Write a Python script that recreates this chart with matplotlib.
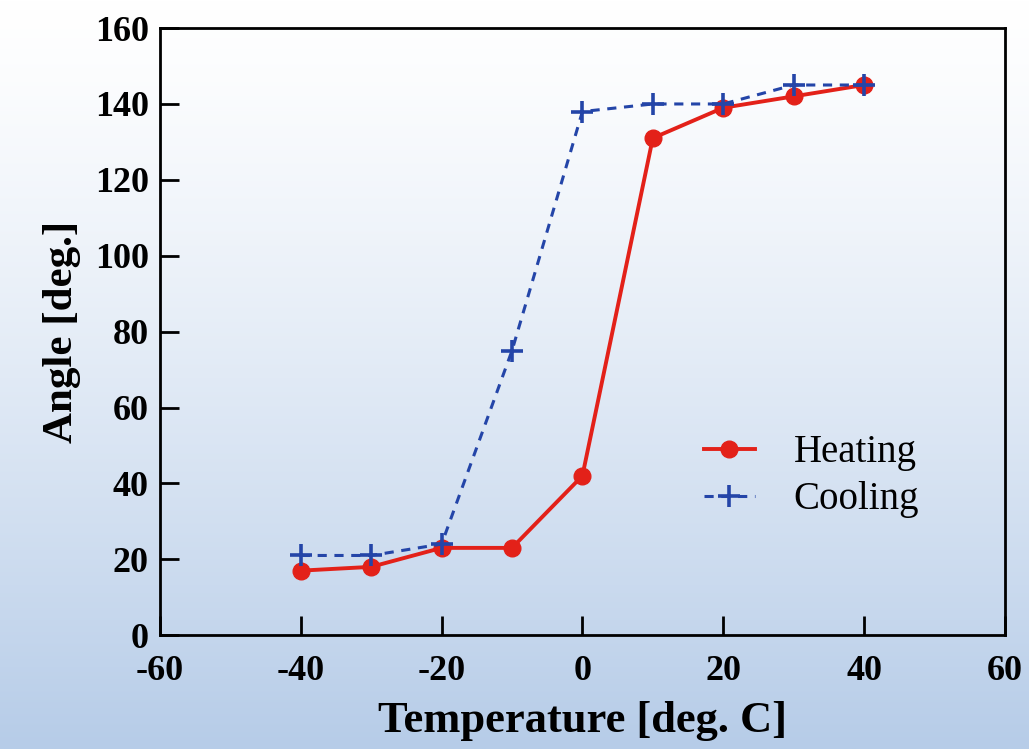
import numpy as np
import matplotlib
matplotlib.use('Agg')
import matplotlib.pyplot as plt
from matplotlib import rcParams

rcParams['font.family'] = 'serif'
rcParams['font.serif'] = ['Liberation Serif', 'DejaVu Serif']
rcParams['axes.unicode_minus'] = False

temperature = [-40, -30, -20, -10, 0, 10, 20, 30, 40]
heating = [17, 18, 23, 23, 42, 131, 139, 142, 145]
cooling = [21, 21, 24, 75, 138, 140, 140, 145, 145]

xticks = [-60, -40, -20, 0, 20, 40, 60]
yticks = [0, 20, 40, 60, 80, 100, 120, 140, 160]

fig = plt.figure(figsize=(10.29, 7.49), dpi=100)

# background gradient, white on top to light blue at the bottom
bg = fig.add_axes([0, 0, 1, 1], zorder=-10)
t = np.linspace(0, 1, 256) ** 1.3
top = np.array([1.0, 1.0, 1.0])
bottom = np.array([182, 204, 232]) / 255.0
grad = top[None, :] * (1 - t[:, None]) + bottom[None, :] * t[:, None]
bg.imshow(grad[:, None, :], aspect='auto', extent=[0, 1, 0, 1])
bg.axis('off')

ax = fig.add_axes([0.1555, 0.152, 0.821, 0.8105])
ax.patch.set_alpha(0)

ax.plot(temperature, heating, color='#e32119', lw=2.8, marker='o', ms=12,
        label='Heating')
ax.plot(temperature, cooling, color='#2445a8', lw=2.2, ls=(0, (3, 2.5)),
        marker='+', ms=16, mew=2.6, label='Cooling')

ax.set_xlim(-60, 60)
ax.set_ylim(0, 160)
ax.set_xticks(xticks)
ax.set_yticks(yticks)
ax.tick_params(direction='in', length=14, width=2, labelsize=26,
               top=False, right=False)
ax.tick_params(axis='x', pad=14)
ax.tick_params(axis='y', pad=8)
for lab in ax.get_xticklabels() + ax.get_yticklabels():
    lab.set_fontweight('bold')
for s in ax.spines.values():
    s.set_linewidth(2)

ax.set_xlabel('Temperature [deg. C]', fontsize=32, fontweight='bold', labelpad=10)
ax.set_ylabel('Angle [deg.]', fontsize=31, fontweight='bold', labelpad=10)

ax.legend(loc='lower right', bbox_to_anchor=(0.94, 0.135), frameon=False,
          fontsize=28, handlelength=1.3, handletextpad=1.0, labelspacing=0.25)

fig.savefig('out.png', dpi=100)
